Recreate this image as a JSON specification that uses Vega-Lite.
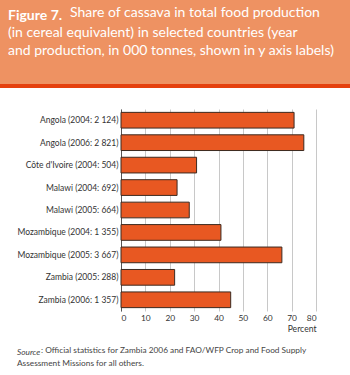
{
  "$schema": "https://vega.github.io/schema/vega-lite/v6.json",
  "padding": 0,
  "background": "white",
  "config": {"view": {"stroke": null}, "font": "Lato"},
  "title": {
    "text": ": Official statistics for Zambia 2006 and FAO/WFP Crop and Food Supply",
    "orient": "bottom", "anchor": "start", "frame": "group", "dx": 41, "offset": -21,
    "font": "Lato", "fontSize": 8.3, "fontWeight": "normal", "color": "#444444"
  },
  "concat": [
    {
      "concat": [
        {
          "width": 350, "height": 84,
          "view": {"fill": "#EE9262", "stroke": null},
          "data": {"values": [{}]},
          "mark": {"type": "text", "text": ""},
          "encoding": {},
          "title": {
            "text": "Figure 7.",
            "subtitle": ["(in cereal equivalent) in selected countries (year", "and production, in 000 tonnes, shown in y axis labels)"],
            "orient": "top", "anchor": "start", "frame": "group",
            "offset": -58, "dx": 8,
            "font": "Lato", "fontSize": 14, "fontWeight": "bold", "color": "white",
            "subtitleFont": "Lato", "subtitleFontSize": 14, "subtitleColor": "white",
            "subtitleLineHeight": 17.6, "subtitlePadding": 3.6
          }
        },
        {
          "width": 350, "height": 4,
          "view": {"fill": "#E5400E", "stroke": null},
          "data": {"values": [{}]},
          "mark": {"type": "text", "text": ""},
          "encoding": {},
          "title": {
            "text": "Share of cassava in total food production",
            "orient": "top", "anchor": "start", "frame": "group",
            "offset": 60, "dx": 70,
            "font": "Lato", "fontSize": 14, "fontWeight": "normal", "color": "white"
          }
        }
      ],
      "columns": 1,
      "spacing": 0,
      "bounds": "flush"
    },
    {
      "width": 350, "height": 202,
      "data": {"values": [
        {"label": "Angola (2004: 2 124)", "value": 71},
        {"label": "Angola (2006: 2 821)", "value": 75},
        {"label": "Côte d'Ivoire (2004: 504)", "value": 31},
        {"label": "Malawi (2004: 692)", "value": 23},
        {"label": "Malawi (2005: 664)", "value": 28},
        {"label": "Mozambique (2004: 1 355)", "value": 41},
        {"label": "Mozambique (2005: 3 667)", "value": 66},
        {"label": "Zambia (2005: 288)", "value": 22},
        {"label": "Zambia (2006: 1 357)", "value": 45}
      ]},
      "mark": {"type": "bar", "fill": "#E85822", "stroke": "#3C2A20", "strokeWidth": 1},
      "encoding": {
        "y": {
          "field": "label", "type": "nominal", "sort": null,
          "scale": {"paddingInner": 0.3, "paddingOuter": 0.15},
          "axis": {"title": null, "offset": -121, "domain": true, "domainColor": "#555555", "ticks": false, "labelPadding": 3,
                   "labelFont": "Lato", "labelFontSize": 8.5, "labelColor": "#333333"}
        },
        "x": {
          "field": "value", "type": "quantitative",
          "scale": {"domain": [0, 80], "range": [121, 316]},
          "axis": {"values": [0, 10, 20, 30, 40, 50, 60, 70, 80], "title": "Percent", "titleAnchor": "end",
                   "titleFont": "Lato", "titleFontSize": 8.6, "titleFontWeight": "normal", "titleColor": "#333333", "titlePadding": 3,
                   "grid": true, "gridColor": "#C8C8C8", "domain": false, "ticks": false, "labelPadding": 2,
                   "labelFont": "Lato", "labelFontSize": 8.4, "labelColor": "#333333"}
        }
      },
      "title": {
        "text": "Source",
        "subtitle": ["Assessment Missions for all others."],
        "orient": "bottom", "anchor": "start", "frame": "group", "dx": 17, "offset": 15,
        "font": "Lato", "fontSize": 8.3, "fontStyle": "italic", "fontWeight": "normal", "color": "#444444",
        "subtitleFont": "Lato", "subtitleFontSize": 8.3, "subtitleColor": "#444444",
        "subtitleLineHeight": 11, "subtitlePadding": 2.7
      }
    }
  ],
  "columns": 1,
  "spacing": 18
}
